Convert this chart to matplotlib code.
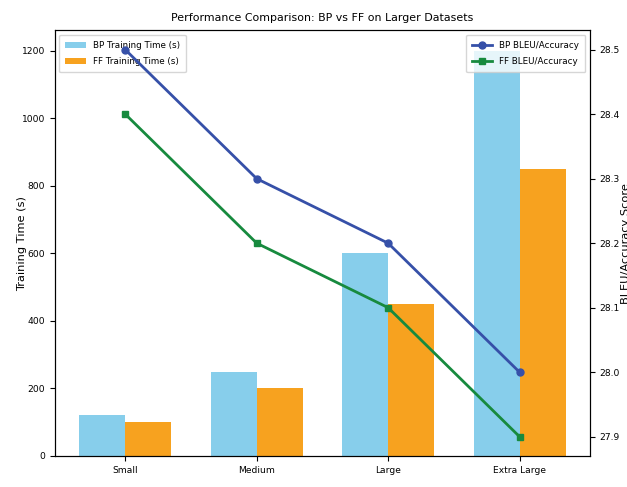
import numpy as np
import matplotlib.pyplot as plt

# dataset sizes and the measured values
datasets = ['Small', 'Medium', 'Large', 'Extra Large']
bp_time = [120, 250, 600, 1200]
ff_time = [100, 200, 450, 850]
bp_score = [28.5, 28.3, 28.2, 28.0]
ff_score = [28.4, 28.2, 28.1, 27.9]

plt.rcParams['font.family'] = ['DejaVu Sans']

x = np.arange(len(datasets))
width = 0.35

fig = plt.figure(figsize=(6.27, 4.87), dpi=100)
ax1 = fig.add_axes([0.0877, 0.0637, 0.853, 0.874])

ax1.bar(x - width / 2, bp_time, width, color='#87CEEB', label='BP Training Time (s)')
ax1.bar(x + width / 2, ff_time, width, color='#F7A21F', label='FF Training Time (s)')
ax1.set_xticks(x)
ax1.set_xticklabels(datasets)
ax1.set_xlabel('Dataset Size', fontsize=8, labelpad=9)
ax1.set_ylabel('Training Time (s)', fontsize=8.2, labelpad=-4)
ax1.tick_params(labelsize=6.6)
ax1.legend(loc='upper left', fontsize=6.3, labelspacing=0.85, borderpad=0.7,
           handlelength=2.3)

# second axis for the quality scores
ax2 = ax1.twinx()
ax2.plot(x, bp_score, color='#3650A8', marker='o', markersize=5, linewidth=2, label='BP BLEU/Accuracy')
ax2.plot(x, ff_score, color='#178A3E', marker='s', markersize=5, linewidth=2, label='FF BLEU/Accuracy')
ax2.set_ylabel('BLEU/Accuracy Score', fontsize=8.2, labelpad=1)
ax2.tick_params(labelsize=6.6)
ax2.legend(loc='upper right', fontsize=6.3, labelspacing=0.85, borderpad=0.7,
           handlelength=2.3)

ax1.set_title('Performance Comparison: BP vs FF on Larger Datasets', fontsize=7.9, pad=7)

fig.savefig('out.png', dpi=100)
